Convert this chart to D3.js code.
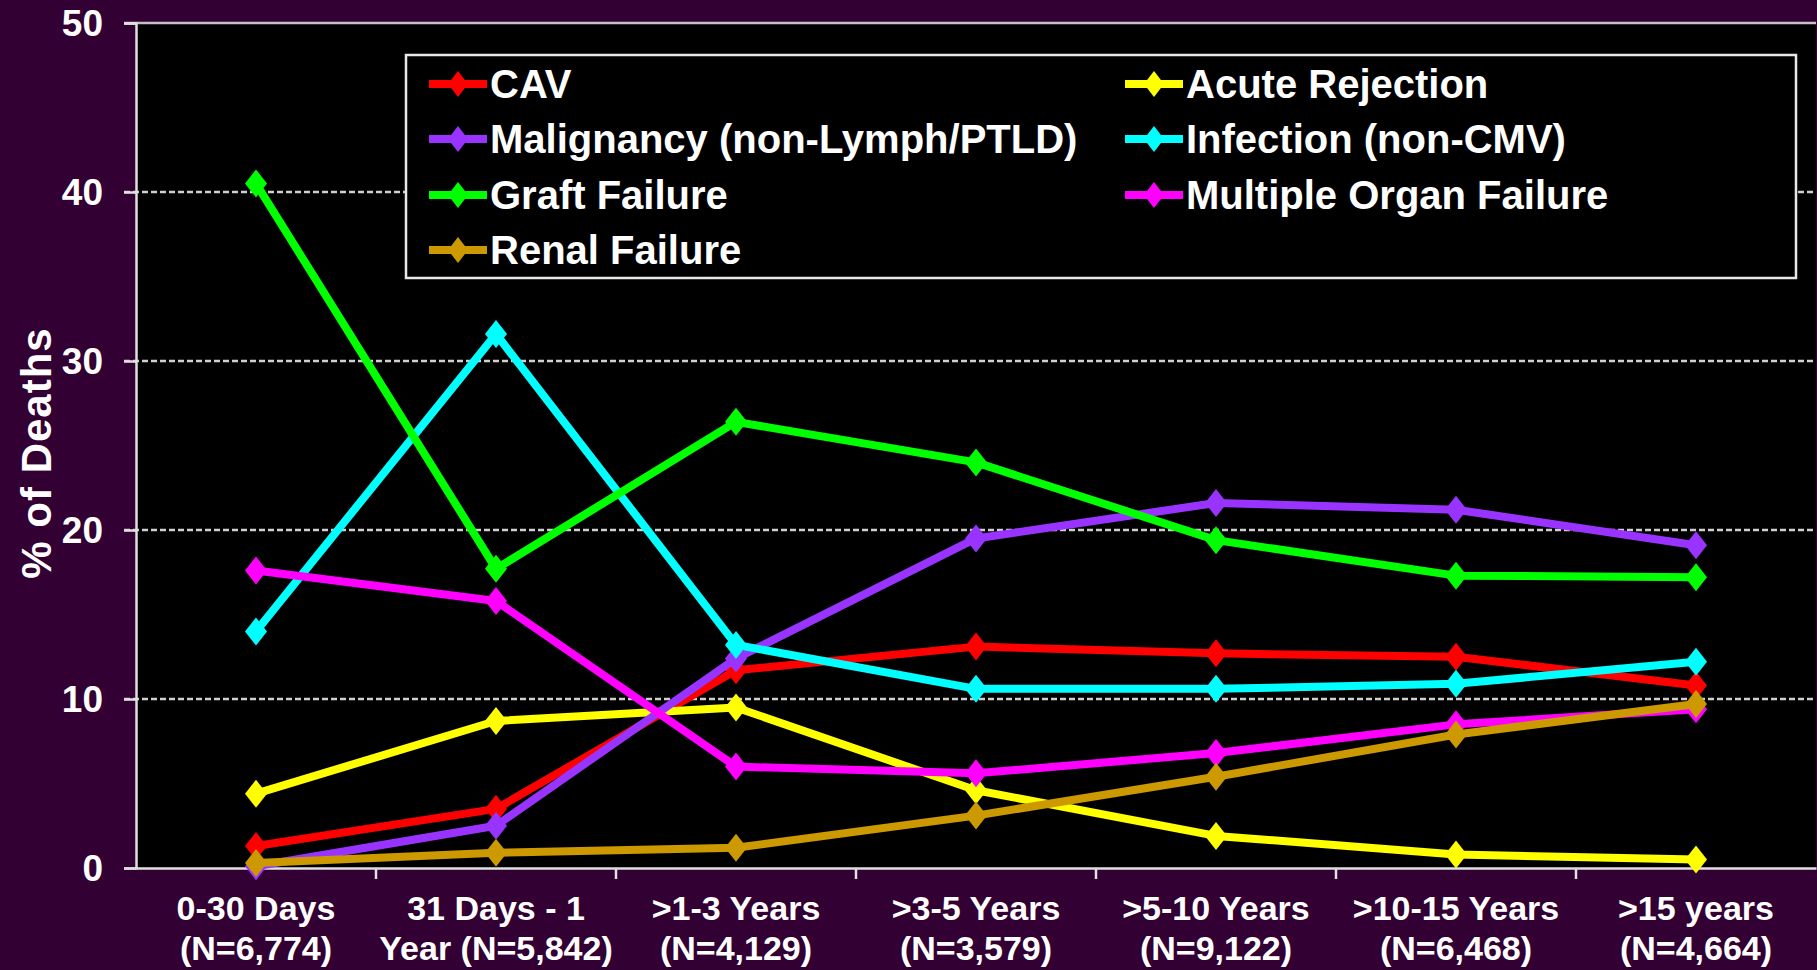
<!DOCTYPE html>
<html>
<head>
<meta charset="utf-8">
<script src="https://cdn.jsdelivr.net/npm/d3@7"></script>
<style>
  html, body { margin: 0; padding: 0; background: #330033; }
  svg { display: block; }
  text { font-family: "Liberation Sans", Arial, sans-serif; font-weight: bold; fill: #ffffff; }
</style>
</head>
<body>
<svg id="chart" width="1817" height="970"></svg>
<script>
// ---- Data ----
const categoriesLine1 = ["0-30 Days", "31 Days - 1", ">1-3 Years", ">3-5 Years", ">5-10 Years", ">10-15 Years", ">15 years"];
const categoriesLine2 = ["(N=6,774)", "Year (N=5,842)", "(N=4,129)", "(N=3,579)", "(N=9,122)", "(N=6,468)", "(N=4,664)"];
const seriesNames = ["CAV", "Acute Rejection", "Malignancy (non-Lymph/PTLD)", "Infection (non-CMV)", "Graft Failure", "Multiple Organ Failure", "Renal Failure"];
const cav          = [1.3, 3.5, 11.7, 13.1, 12.7, 12.5, 10.8];
const acuteRej     = [4.4, 8.7, 9.5, 4.6, 1.9, 0.8, 0.5];
const malignancy   = [0.1, 2.5, 12.4, 19.5, 21.6, 21.2, 19.1];
const infection    = [14.0, 31.6, 13.2, 10.6, 10.6, 10.9, 12.2];
const graftFailure = [40.5, 17.7, 26.4, 24.0, 19.4, 17.3, 17.2];
const mof          = [17.6, 15.8, 6.0, 5.6, 6.8, 8.5, 9.4];
const renalFailure = [0.3, 0.9, 1.2, 3.1, 5.4, 7.9, 9.7];
const seriesValues = [cav, acuteRej, malignancy, infection, graftFailure, mof, renalFailure];
const seriesColors = ["#ff0000", "#ffff00", "#9933ff", "#00ffff", "#00ff00", "#ff00ff", "#cc9900"];
const yTicks = [0, 10, 20, 30, 40, 50];

// ---- Layout ----
const svg = d3.select("#chart");
const pLeft = 136, pRight = 1816, pTop = 23, pBottom = 868;

const x = d3.scaleBand().domain(d3.range(categoriesLine1.length)).range([pLeft, pRight]);
const y = d3.scaleLinear().domain([0, 50]).range([pBottom, pTop]);
const cx = i => x(i) + x.bandwidth() / 2;

// plot background
svg.append("rect").attr("x", pLeft).attr("y", pTop).attr("width", pRight - pLeft).attr("height", pBottom - pTop).attr("fill", "#000");

// gridlines (dashed) for 10..40
svg.append("g").selectAll("line").data(yTicks.filter(d => d > 0 && d < 50)).join("line")
  .attr("x1", pLeft - 12).attr("x2", pRight)
  .attr("y1", d => y(d)).attr("y2", d => y(d))
  .attr("stroke", "#d0d0d0").attr("stroke-width", 2.5).attr("stroke-dasharray", "6,3");

// top border (50) solid
svg.append("line").attr("x1", pLeft - 12).attr("x2", pRight).attr("y1", y(50)).attr("y2", y(50))
  .attr("stroke", "#c8c0c8").attr("stroke-width", 2.5);

// Y axis
const yAxis = d3.axisLeft(y).tickValues(yTicks).tickSize(12).tickPadding(21).tickFormat(d3.format("d"));
const gy = svg.append("g").attr("transform", `translate(${pLeft},0)`).call(yAxis);
gy.select(".domain").attr("stroke", "#e0e0e0").attr("stroke-width", 2.5);
gy.selectAll(".tick line").attr("stroke", "#e0e0e0").attr("stroke-width", 2.5);
gy.selectAll(".tick text").attr("font-size", 37).attr("fill", "#fff").attr("dy", "0.35em")
  .style("font-family", "'Liberation Sans', Arial, sans-serif").style("font-weight", "bold");

// X axis
const xAxis = d3.axisBottom(x).tickSize(0).tickFormat("");
const gx = svg.append("g").attr("transform", `translate(0,${pBottom})`).call(xAxis);
gx.select(".domain").attr("stroke", "#e0e0e0").attr("stroke-width", 2.5);
// tick marks between categories
svg.append("g").selectAll("line").data(d3.range(1, categoriesLine1.length)).join("line")
  .attr("x1", d => x(d)).attr("x2", d => x(d))
  .attr("y1", pBottom).attr("y2", pBottom + 11)
  .attr("stroke", "#e0e0e0").attr("stroke-width", 2.5);

const xl = svg.append("g");
xl.selectAll("text.l1").data(categoriesLine1).join("text").attr("class", "l1")
  .attr("x", (d, i) => cx(i)).attr("y", 920)
  .attr("text-anchor", "middle").attr("font-size", 34).text(d => d);
xl.selectAll("text.l2").data(categoriesLine2).join("text").attr("class", "l2")
  .attr("x", (d, i) => cx(i)).attr("y", 960)
  .attr("text-anchor", "middle").attr("font-size", 34).text(d => d);

// Y title
svg.append("text").attr("transform", "translate(51,453) rotate(-90)")
  .attr("text-anchor", "middle").attr("font-size", 42).attr("letter-spacing", 1)
  .text("% of Deaths");

// Diamond marker path
function diamond(px, py, hw, hh) {
  return `M${px},${py - hh}L${px + hw},${py}L${px},${py + hh}L${px - hw},${py}Z`;
}

// Legend
const legX = 406, legY = 55, legW = 1390, legH = 223;
svg.append("rect").attr("x", legX).attr("y", legY).attr("width", legW).attr("height", legH)
  .attr("fill", "#000").attr("stroke", "#e8e8e8").attr("stroke-width", 2.5);
const colX = [429, 1125];
const rowY = [84, 139, 195, 250];
seriesNames.forEach((name, i) => {
  const col = i % 2, row = Math.floor(i / 2);
  const gx0 = colX[col], gy0 = rowY[row];
  const g = svg.append("g");
  g.append("line").attr("x1", gx0).attr("x2", gx0 + 58).attr("y1", gy0).attr("y2", gy0)
    .attr("stroke", seriesColors[i]).attr("stroke-width", 8);
  g.append("path").attr("d", diamond(gx0 + 29, gy0, 10, 13)).attr("fill", seriesColors[i]);
  g.append("text").attr("x", gx0 + 61).attr("y", gy0).attr("dy", "0.36em")
    .attr("font-size", 40).text(name);
});

// Lines + markers
const line = d3.line().x((d, i) => cx(i)).y(d => y(d));
seriesValues.forEach((vals, si) => {
  const g = svg.append("g");
  g.append("path").datum(vals).attr("d", line).attr("fill", "none")
    .attr("stroke", seriesColors[si]).attr("stroke-width", 8).attr("stroke-linejoin", "round");
  g.selectAll("path.m").data(vals).join("path").attr("class", "m")
    .attr("d", (d, i) => diamond(cx(i), y(d), 11, 14))
    .attr("fill", seriesColors[si]);
});
</script>
</body>
</html>
